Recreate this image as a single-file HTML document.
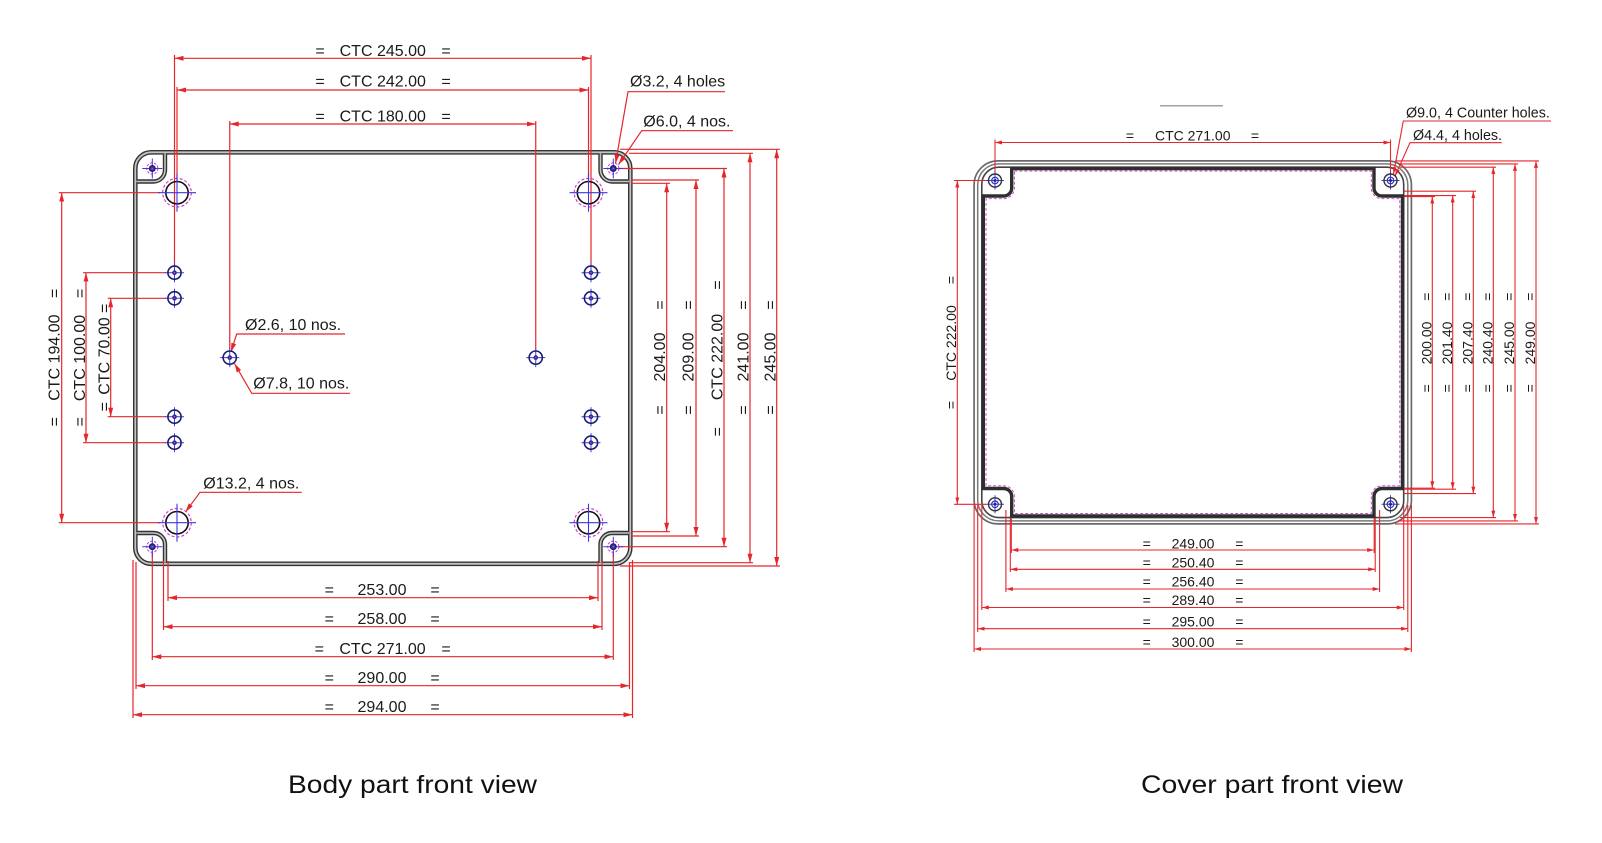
<!DOCTYPE html>
<html><head><meta charset="utf-8"><style>html,body{margin:0;padding:0;background:#fff}svg{display:block}text{font-family:"Liberation Sans",Arial,sans-serif;fill:#1a1a1a}</style></head>
<body>
<svg width="1602" height="843" viewBox="0 0 1602 843" xmlns="http://www.w3.org/2000/svg">
<defs>
<marker id="a" viewBox="0 0 9 5" refX="9" refY="2.5" markerWidth="9" markerHeight="5" markerUnits="userSpaceOnUse" orient="auto-start-reverse"><path d="M0,0 L9,2.5 L0,5z" fill="#e5262b"/></marker>
<marker id="b" viewBox="0 0 7 4" refX="7" refY="2" markerWidth="7" markerHeight="4" markerUnits="userSpaceOnUse" orient="auto-start-reverse"><path d="M0,0 L7,2 L0,4z" fill="#e5262b"/></marker>
<g id="h78">
<line x1="-9.5" y1="0" x2="9.5" y2="0" stroke="#3a3ae0" stroke-width="1"/>
<line x1="0" y1="-9.5" x2="0" y2="9.5" stroke="#3a3ae0" stroke-width="1"/>
<circle r="6.6" fill="none" stroke="#1c1c70" stroke-width="1.6"/>
<circle r="2.3" fill="#2a2a90"/>
<circle r="0.8" fill="#d040d0"/>
</g>
<g id="hbig">
<circle r="14.3" fill="none" stroke="#d030d0" stroke-width="1.1" stroke-dasharray="3 2"/>
<circle r="11.2" fill="none" stroke="#111" stroke-width="1.6"/>
<line x1="-19" y1="0" x2="19" y2="0" stroke="#3a3ae0" stroke-width="1.1"/>
<line x1="0" y1="-19" x2="0" y2="19" stroke="#3a3ae0" stroke-width="1.1"/>
</g>
<g id="hsm">
<circle r="5.6" fill="none" stroke="#d030d0" stroke-width="1" stroke-dasharray="2.5 1.5"/>
<line x1="-10" y1="0" x2="10" y2="0" stroke="#3a3ae0" stroke-width="1"/>
<line x1="0" y1="-10" x2="0" y2="10" stroke="#3a3ae0" stroke-width="1"/>
<circle r="2.8" fill="#3a3aa0" stroke="#1c1c70" stroke-width="1.3"/>
<circle r="0.8" fill="#d040d0"/>
</g>
<g id="hcov">
<line x1="-9" y1="0" x2="9" y2="0" stroke="#3a3ae0" stroke-width="1"/>
<line x1="0" y1="-9" x2="0" y2="9" stroke="#3a3ae0" stroke-width="1"/>
<circle r="6.5" fill="none" stroke="#333" stroke-width="1.4"/>
<circle r="3.3" fill="none" stroke="#3030c0" stroke-width="1.2"/>
<circle r="1.5" fill="#22228a"/>
</g>
</defs>

<!-- ================= BODY ================= -->
<g fill="none">
<rect x="135.3" y="152.3" width="495" height="411.5" rx="16" stroke="#333" stroke-width="4.6"/>
<path d="M165,152.3 V170 A11.5,11.5 0 0 1 153.5,181.5 H135.3 M600.5,152.3 V170 A11.5,11.5 0 0 0 612,181.5 H630.3 M165,563.8 V544.5 A11.5,11.5 0 0 0 153.5,533 H135.3 M600.5,563.8 V544.5 A11.5,11.5 0 0 1 612,533 H630.3" stroke="#333" stroke-width="4.4"/>
<rect x="135.3" y="152.3" width="495" height="411.5" rx="16" stroke="#c4c4c4" stroke-width="1.8"/>
<path d="M165,153.5 V170 A11.5,11.5 0 0 1 153.5,181.5 H136.5 M600.5,153.5 V170 A11.5,11.5 0 0 0 612,181.5 H629 M165,562.5 V544.5 A11.5,11.5 0 0 0 153.5,533 H136.5 M600.5,562.5 V544.5 A11.5,11.5 0 0 1 612,533 H629" stroke="#c4c4c4" stroke-width="1.6"/>
</g>

<!-- body dimension lines -->
<g stroke="#e5262b" stroke-width="1.2" fill="none">
<!-- top -->
<line x1="174.5" y1="58.3" x2="591" y2="58.3" marker-start="url(#a)" marker-end="url(#a)"/>
<line x1="177" y1="90" x2="588.5" y2="90" marker-start="url(#a)" marker-end="url(#a)"/>
<line x1="229.75" y1="124" x2="535.75" y2="124" marker-start="url(#a)" marker-end="url(#a)"/>
<line x1="174.5" y1="55" x2="174.5" y2="265"/>
<line x1="591" y1="55" x2="591" y2="265"/>
<line x1="177" y1="87" x2="177" y2="181"/>
<line x1="588.5" y1="87" x2="588.5" y2="181"/>
<line x1="229.75" y1="121" x2="229.75" y2="349"/>
<line x1="535.75" y1="121" x2="535.75" y2="349"/>
<!-- bottom -->
<line x1="168" y1="597.7" x2="598" y2="597.7" marker-start="url(#a)" marker-end="url(#a)"/>
<line x1="163.5" y1="626.7" x2="602" y2="626.7" marker-start="url(#a)" marker-end="url(#a)"/>
<line x1="152.3" y1="656.7" x2="613.3" y2="656.7" marker-start="url(#a)" marker-end="url(#a)"/>
<line x1="136" y1="685.7" x2="629.5" y2="685.7" marker-start="url(#a)" marker-end="url(#a)"/>
<line x1="133" y1="714.7" x2="632.5" y2="714.7" marker-start="url(#a)" marker-end="url(#a)"/>
<line x1="168" y1="561" x2="168" y2="601"/>
<line x1="598" y1="561" x2="598" y2="601"/>
<line x1="163.5" y1="561" x2="163.5" y2="630"/>
<line x1="602" y1="561" x2="602" y2="630"/>
<line x1="152.3" y1="553" x2="152.3" y2="660"/>
<line x1="613.3" y1="553" x2="613.3" y2="660"/>
<line x1="136" y1="562" x2="136" y2="689"/>
<line x1="629.5" y1="562" x2="629.5" y2="689"/>
<line x1="133" y1="560" x2="133" y2="718"/>
<line x1="632.5" y1="560" x2="632.5" y2="718"/>
<!-- left -->
<line x1="61.7" y1="192.7" x2="61.7" y2="522.7" marker-start="url(#a)" marker-end="url(#a)"/>
<line x1="86" y1="272.7" x2="86" y2="442.7" marker-start="url(#a)" marker-end="url(#a)"/>
<line x1="110.7" y1="298.3" x2="110.7" y2="416.7" marker-start="url(#a)" marker-end="url(#a)"/>
<line x1="58.7" y1="192.7" x2="160" y2="192.7"/>
<line x1="58.7" y1="522.7" x2="160" y2="522.7"/>
<line x1="83" y1="272.7" x2="166" y2="272.7"/>
<line x1="83" y1="442.7" x2="166" y2="442.7"/>
<line x1="107.7" y1="298.3" x2="166" y2="298.3"/>
<line x1="107.7" y1="416.7" x2="166" y2="416.7"/>
<!-- right -->
<line x1="666.7" y1="183.3" x2="666.7" y2="531.7" marker-start="url(#a)" marker-end="url(#a)"/>
<line x1="696" y1="180" x2="696" y2="536" marker-start="url(#a)" marker-end="url(#a)"/>
<line x1="724" y1="168.5" x2="724" y2="546.7" marker-start="url(#a)" marker-end="url(#a)"/>
<line x1="750" y1="153.3" x2="750" y2="562.7" marker-start="url(#a)" marker-end="url(#a)"/>
<line x1="776.7" y1="149.3" x2="776.7" y2="566" marker-start="url(#a)" marker-end="url(#a)"/>
<line x1="631" y1="183.3" x2="670" y2="183.3"/>
<line x1="631" y1="531.7" x2="670" y2="531.7"/>
<line x1="631" y1="180" x2="699" y2="180"/>
<line x1="631" y1="536" x2="699" y2="536"/>
<line x1="619" y1="168.5" x2="727" y2="168.5"/>
<line x1="619" y1="546.7" x2="727" y2="546.7"/>
<line x1="629" y1="153.3" x2="753" y2="153.3"/>
<line x1="629" y1="562.7" x2="753" y2="562.7"/>
<line x1="620" y1="149.3" x2="780" y2="149.3"/>
<line x1="620" y1="566" x2="780" y2="566"/>
<!-- leaders -->
<polyline points="725,91.7 628,91.7 615.5,163.5" marker-end="url(#a)"/>
<polyline points="733,130.7 641.7,130.7 618.5,164.5" marker-end="url(#a)"/>
<polyline points="345,334 236.7,334 231,352" marker-end="url(#a)"/>
<polyline points="350,393.3 251.7,393.3 234.5,363.5" marker-end="url(#a)"/>
<polyline points="301.7,492.3 200,492.3 185.5,512" marker-end="url(#a)"/>
</g>

<!-- body holes -->
<use href="#hbig" x="177" y="192.7"/><use href="#hbig" x="588.5" y="192.7"/>
<use href="#hbig" x="177" y="522.7"/><use href="#hbig" x="588.5" y="522.7"/>
<use href="#hsm" x="152.3" y="168.5"/><use href="#hsm" x="613.3" y="168.5"/>
<use href="#hsm" x="152.3" y="546.7"/><use href="#hsm" x="613.3" y="546.7"/>
<use href="#h78" x="174.5" y="272.7"/><use href="#h78" x="174.5" y="298.3"/>
<use href="#h78" x="174.5" y="416.7"/><use href="#h78" x="174.5" y="442.7"/>
<use href="#h78" x="591" y="272.7"/><use href="#h78" x="591" y="298.3"/>
<use href="#h78" x="591" y="416.7"/><use href="#h78" x="591" y="442.7"/>
<use href="#h78" x="229.75" y="357.6"/><use href="#h78" x="535.75" y="357.6"/>

<!-- body texts -->
<g font-size="16" text-anchor="middle">
<text x="320" y="56">=</text><text x="382.75" y="56">CTC 245.00</text><text x="446" y="56">=</text>
<text x="320" y="86.7">=</text><text x="382.75" y="86.7">CTC 242.00</text><text x="446" y="86.7">=</text>
<text x="320" y="121.7">=</text><text x="382.75" y="121.7">CTC 180.00</text><text x="446" y="121.7">=</text>
<text x="329.3" y="595">=</text><text x="382" y="595">253.00</text><text x="435" y="595">=</text>
<text x="329.3" y="624">=</text><text x="382" y="624">258.00</text><text x="435" y="624">=</text>
<text x="319.3" y="654">=</text><text x="382.5" y="654">CTC 271.00</text><text x="446" y="654">=</text>
<text x="329.3" y="683">=</text><text x="382" y="683">290.00</text><text x="435" y="683">=</text>
<text x="329.3" y="712">=</text><text x="382" y="712">294.00</text><text x="435" y="712">=</text>

<text transform="translate(59.5,357.6) rotate(-90)">CTC 194.00</text>
<text transform="translate(59.5,293.3) rotate(-90)">=</text><text transform="translate(59.5,421.7) rotate(-90)">=</text>
<text transform="translate(85,358) rotate(-90)">CTC 100.00</text>
<text transform="translate(85,293.3) rotate(-90)">=</text><text transform="translate(85,421.7) rotate(-90)">=</text>
<text transform="translate(109.3,356) rotate(-90)">CTC 70.00</text>
<text transform="translate(109.3,308.3) rotate(-90)">=</text><text transform="translate(109.3,406.7) rotate(-90)">=</text>

<text transform="translate(665,357) rotate(-90)">204.00</text>
<text transform="translate(665,305) rotate(-90)">=</text><text transform="translate(665,410) rotate(-90)">=</text>
<text transform="translate(693.5,357) rotate(-90)">209.00</text>
<text transform="translate(693.5,305) rotate(-90)">=</text><text transform="translate(693.5,410) rotate(-90)">=</text>
<text transform="translate(722.5,357) rotate(-90)">CTC 222.00</text>
<text transform="translate(722.5,285) rotate(-90)">=</text><text transform="translate(722.5,431.7) rotate(-90)">=</text>
<text transform="translate(748.3,357) rotate(-90)">241.00</text>
<text transform="translate(748.3,305) rotate(-90)">=</text><text transform="translate(748.3,410) rotate(-90)">=</text>
<text transform="translate(775.5,357) rotate(-90)">245.00</text>
<text transform="translate(775.5,305) rotate(-90)">=</text><text transform="translate(775.5,410) rotate(-90)">=</text>
</g>
<g font-size="16">
<text x="630" y="86.7">Ø3.2, 4 holes</text>
<text x="643.3" y="126.7">Ø6.0, 4 nos.</text>
<text x="245" y="330">Ø2.6, 10 nos.</text>
<text x="253.3" y="388.3">Ø7.8, 10 nos.</text>
<text x="203.3" y="488.3">Ø13.2, 4 nos.</text>
</g>

<!-- ================= COVER ================= -->
<line x1="1160" y1="105.7" x2="1223" y2="105.7" stroke="#a0a0a0" stroke-width="1.5"/>
<g fill="none">
<rect x="974.1" y="160.9" width="437.3" height="363" rx="24" stroke="#6a6a6a" stroke-width="1.7"/>
<rect x="977.7" y="163.9" width="430.1" height="357" rx="21" stroke="#7a7a7a" stroke-width="1.5"/>
<rect x="981.8" y="167.2" width="421.9" height="350.4" rx="17" stroke="#444" stroke-width="1.6"/>
<path d="M1011.7,168.5 H1374 V188 A8,8 0 0 0 1382,196 H1402.5 V488.5 H1382 A8,8 0 0 0 1374,496.5 V516 H1011.7 V496.5 A8,8 0 0 0 1003.7,488.5 H983.3 V196 H1003.7 A8,8 0 0 0 1011.7,188 Z" stroke="#2e2e2e" stroke-width="3.4"/>
<path d="M1014.4,171 H1371.3 V188 A10.7,10.7 0 0 0 1382,198.7 H1399.8 V485.8 H1382 A10.7,10.7 0 0 0 1371.3,496.5 V513.4 H1014.4 V496.5 A10.7,10.7 0 0 0 1003.7,485.8 H986 V198.7 H1003.7 A10.7,10.7 0 0 0 1014.4,188 Z" stroke="#c040c0" stroke-width="0.9" stroke-dasharray="3 2"/>
</g>

<g stroke="#e5262b" stroke-width="1.1" fill="none">
<line x1="995" y1="142.5" x2="1390.5" y2="142.5" marker-start="url(#b)" marker-end="url(#b)"/>
<line x1="995" y1="139.5" x2="995" y2="173"/>
<line x1="1390.5" y1="139.5" x2="1390.5" y2="173"/>
<!-- bottom -->
<line x1="1011.3" y1="550" x2="1374.2" y2="550" marker-start="url(#b)" marker-end="url(#b)"/>
<line x1="1010.3" y1="569.3" x2="1375.2" y2="569.3" marker-start="url(#b)" marker-end="url(#b)"/>
<line x1="1005.9" y1="589" x2="1379.6" y2="589" marker-start="url(#b)" marker-end="url(#b)"/>
<line x1="981.8" y1="607.5" x2="1403.7" y2="607.5" marker-start="url(#b)" marker-end="url(#b)"/>
<line x1="977.7" y1="628.7" x2="1407.8" y2="628.7" marker-start="url(#b)" marker-end="url(#b)"/>
<line x1="974.1" y1="649" x2="1411.4" y2="649" marker-start="url(#b)" marker-end="url(#b)"/>
<line x1="1011.3" y1="518" x2="1011.3" y2="553"/><line x1="1374.2" y1="518" x2="1374.2" y2="553"/>
<line x1="1010.3" y1="518" x2="1010.3" y2="572"/><line x1="1375.2" y1="518" x2="1375.2" y2="572"/>
<line x1="1005.9" y1="510" x2="1005.9" y2="592"/><line x1="1379.6" y1="510" x2="1379.6" y2="592"/>
<line x1="981.8" y1="505" x2="981.8" y2="610"/><line x1="1403.7" y1="505" x2="1403.7" y2="610"/>
<line x1="977.7" y1="505" x2="977.7" y2="632"/><line x1="1407.8" y1="505" x2="1407.8" y2="632"/>
<line x1="974.1" y1="505" x2="974.1" y2="652"/><line x1="1411.4" y1="505" x2="1411.4" y2="652"/>
<!-- left -->
<line x1="957.3" y1="180.5" x2="957.3" y2="504.3" marker-start="url(#b)" marker-end="url(#b)"/>
<line x1="954" y1="180.5" x2="986" y2="180.5"/>
<line x1="954" y1="504.3" x2="986" y2="504.3"/>
<!-- right -->
<line x1="1432.3" y1="196.6" x2="1432.3" y2="488.2" marker-start="url(#b)" marker-end="url(#b)"/>
<line x1="1452.7" y1="195.6" x2="1452.7" y2="489.2" marker-start="url(#b)" marker-end="url(#b)"/>
<line x1="1473.3" y1="191.2" x2="1473.3" y2="493.6" marker-start="url(#b)" marker-end="url(#b)"/>
<line x1="1493.3" y1="167.2" x2="1493.3" y2="517.6" marker-start="url(#b)" marker-end="url(#b)"/>
<line x1="1515" y1="163.9" x2="1515" y2="520.9" marker-start="url(#b)" marker-end="url(#b)"/>
<line x1="1536" y1="160.9" x2="1536" y2="523.9" marker-start="url(#b)" marker-end="url(#b)"/>
<line x1="1404" y1="196.6" x2="1435" y2="196.6"/><line x1="1404" y1="488.2" x2="1435" y2="488.2"/>
<line x1="1404" y1="195.6" x2="1456" y2="195.6"/><line x1="1404" y1="489.2" x2="1456" y2="489.2"/>
<line x1="1404" y1="191.2" x2="1476" y2="191.2"/><line x1="1404" y1="493.6" x2="1476" y2="493.6"/>
<line x1="1400" y1="167.2" x2="1496" y2="167.2"/><line x1="1400" y1="517.6" x2="1496" y2="517.6"/>
<line x1="1398" y1="163.9" x2="1518" y2="163.9"/><line x1="1398" y1="520.9" x2="1518" y2="520.9"/>
<line x1="1395" y1="160.9" x2="1539" y2="160.9"/><line x1="1395" y1="523.9" x2="1539" y2="523.9"/>
<!-- leaders -->
<polyline points="1551,121 1403.3,121 1393.5,174" marker-end="url(#b)"/>
<polyline points="1501.7,142.7 1410,142.7 1395,176" marker-end="url(#b)"/>
</g>

<use href="#hcov" x="995" y="180.5"/><use href="#hcov" x="1390.5" y="180.5"/>
<use href="#hcov" x="995" y="504.3"/><use href="#hcov" x="1390.5" y="504.3"/>

<g font-size="14" text-anchor="middle">
<text x="1130" y="140.7">=</text><text x="1192.75" y="140.7">CTC 271.00</text><text x="1255" y="140.7">=</text>
<text x="1146.7" y="548.3">=</text><text x="1193" y="548.3">249.00</text><text x="1239.3" y="548.3">=</text>
<text x="1146.7" y="567.5">=</text><text x="1193" y="567.5">250.40</text><text x="1239.3" y="567.5">=</text>
<text x="1146.7" y="586.7">=</text><text x="1193" y="586.7">256.40</text><text x="1239.3" y="586.7">=</text>
<text x="1146.7" y="605">=</text><text x="1193" y="605">289.40</text><text x="1239.3" y="605">=</text>
<text x="1146.7" y="626.7">=</text><text x="1193" y="626.7">295.00</text><text x="1239.3" y="626.7">=</text>
<text x="1146.7" y="647">=</text><text x="1193" y="647">300.00</text><text x="1239.3" y="647">=</text>

<text transform="translate(956,343) rotate(-90)">CTC 222.00</text>
<text transform="translate(956,280) rotate(-90)">=</text><text transform="translate(956,405) rotate(-90)">=</text>

<text transform="translate(1431.5,343) rotate(-90)">200.00</text>
<text transform="translate(1431.5,296.7) rotate(-90)">=</text><text transform="translate(1431.5,388.3) rotate(-90)">=</text>
<text transform="translate(1452,343) rotate(-90)">201.40</text>
<text transform="translate(1452,296.7) rotate(-90)">=</text><text transform="translate(1452,388.3) rotate(-90)">=</text>
<text transform="translate(1472.5,343) rotate(-90)">207.40</text>
<text transform="translate(1472.5,296.7) rotate(-90)">=</text><text transform="translate(1472.5,388.3) rotate(-90)">=</text>
<text transform="translate(1492.5,343) rotate(-90)">240.40</text>
<text transform="translate(1492.5,296.7) rotate(-90)">=</text><text transform="translate(1492.5,388.3) rotate(-90)">=</text>
<text transform="translate(1514,343) rotate(-90)">245.00</text>
<text transform="translate(1514,296.7) rotate(-90)">=</text><text transform="translate(1514,388.3) rotate(-90)">=</text>
<text transform="translate(1535,343) rotate(-90)">249.00</text>
<text transform="translate(1535,296.7) rotate(-90)">=</text><text transform="translate(1535,388.3) rotate(-90)">=</text>
</g>
<g font-size="14.3">
<text x="1406" y="117.7">Ø9.0, 4 Counter holes.</text>
<text x="1413" y="140">Ø4.4, 4 holes.</text>
</g>

<!-- titles -->
<text x="412.5" y="793" font-size="25" text-anchor="middle" textLength="249" lengthAdjust="spacingAndGlyphs" style="fill:#111">Body part front view</text>
<text x="1272" y="793" font-size="25" text-anchor="middle" textLength="262" lengthAdjust="spacingAndGlyphs" style="fill:#111">Cover part front view</text>
</svg>
</body></html>
